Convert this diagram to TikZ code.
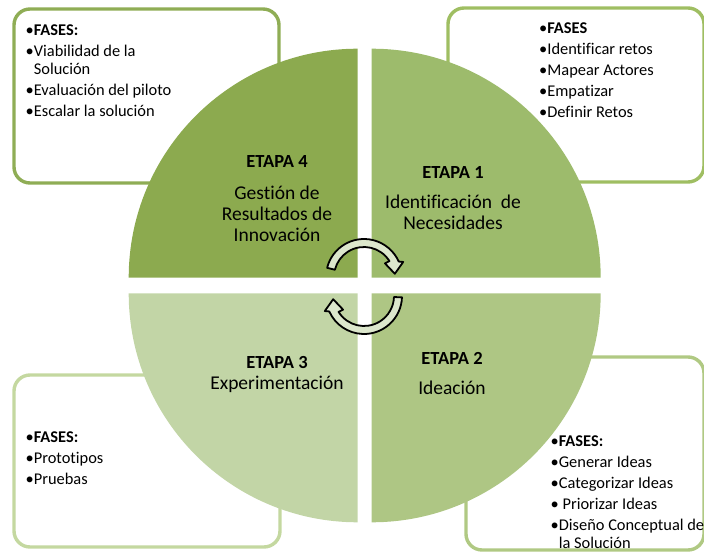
\documentclass[tikz,border=0pt]{standalone}
\usepackage{fontspec}
\setmainfont{Carlito}[Ligatures={NoCommon,NoRare}]
\definecolor{etapaFour}{HTML}{8CAA4F}
\definecolor{etapaOne}{HTML}{9DBB6C}
\definecolor{etapaTwo}{HTML}{AEC684}
\definecolor{etapaThree}{HTML}{C2D5A6}
\definecolor{borderFour}{HTML}{8FAD55}
\definecolor{borderOne}{HTML}{9FBE62}
\definecolor{borderTwo}{HTML}{B0C983}
\definecolor{borderThree}{HTML}{C4D8A0}
\definecolor{arrowFill}{HTML}{DCE7CC}
\tikzset{
    fase_box/.style={
        draw,
        line width=3.4pt,
        rectangle,
        rounded corners=16pt,
        fill=white
    },
    fase_text/.style={
        anchor=north west,
        align=left,
        inner sep=0pt,
        font=\fontsize{16.4}{18}\selectfont
    },
    etapa_text/.style={
        anchor=north,
        align=center,
        inner sep=0pt,
        font=\fontsize{19.5}{21}\selectfont
    },
    turn_arrow/.style={
        draw=black,
        line width=1.8pt,
        line join=round,
        fill=arrowFill
    },
}
\newcommand{\etapahead}[1]{{\fontsize{18.5}{21}\selectfont\bfseries #1}}
\newcommand{\bul}{\phantom{•}}

\begin{document}
\begin{tikzpicture}[x=1pt, y=1pt]
        \useasboundingbox (0,0) rectangle (704,552);

        % boxes
        \node[fase_box, draw=borderFour, minimum width=265pt, minimum height=174pt] (box4) at (146.5,456) {};
        \node[fase_box, draw=borderOne, minimum width=256pt, minimum height=174pt] (box1) at (576,457) {};
        \node[fase_box, draw=borderThree, minimum width=266pt, minimum height=172pt] (box3) at (147,91) {};
        \node[fase_box, draw=borderTwo, minimum width=238pt, minimum height=193pt] (box2) at (585,98.5) {};

        % quadrants
        \coordinate (c4) at (357.7,274.3);
        \coordinate (c1) at (371.7,274.3);
        \coordinate (c2) at (371.7,258.7);
        \coordinate (c3) at (357.7,258.7);
        \fill[etapaFour] (c4) -- ++(180:229pt) arc[start angle=180, end angle=90, radius=229pt] -- cycle;
        \fill[etapaOne] (c1) -- ++(0:229pt) arc[start angle=0, end angle=90, radius=229pt] -- cycle;
        \fill[etapaTwo] (c2) -- ++(270:229pt) arc[start angle=270, end angle=360, radius=229pt] -- cycle;
        \fill[etapaThree] (c3) -- ++(180:229pt) arc[start angle=180, end angle=270, radius=229pt] -- cycle;

        % phases
        \node[fase_text] (fases4) at (25.5,527.2) {•\textbf{FASES:}\\[3pt]
            •Viabilidad de la\\ \bul Solución\\[3pt]
            •Evaluación del piloto\\[3pt]
            •Escalar la solución};
        \node[fase_text] (fases1) at (539,529) {•\textbf{FASES}\\[3pt]
            •Identificar retos\\[3pt]
            •Mapear Actores\\[3pt]
            •Empatizar\\[3pt]
            •Definir Retos};
        \node[fase_text] (fases3) at (25.5,120) {•\textbf{FASES:}\\[3pt]
            •Prototipos\\[3pt]
            •Pruebas};
        \node[fase_text] (fases2) at (550.5,116) {•\textbf{FASES:}\\[3pt]
            •Generar Ideas\\[3pt]
            •Categorizar Ideas\\[3pt]
            • Priorizar Ideas\\[3pt]
            •Diseño Conceptual de\\ \bul la Solución};

        % stages
        \node[etapa_text] (etapa4) at (277,397.2) {\etapahead{ETAPA 4}\\[11pt]
            Gestión de\\ Resultados de\\ Innovación};
        \node[etapa_text] (etapa1) at (453,386.2) {\etapahead{ETAPA 1}\\[9.5pt]
            Identificación~~de\\ Necesidades};
        \node[etapa_text] (etapa3) at (277,196.2) {\etapahead{ETAPA 3}\\[0.5pt]
            Experimentación};
        \node[etapa_text] (etapa2) at (452,200.2) {\etapahead{ETAPA 2}\\[9.5pt]
            Ideación};

        % cycle arrows
        \coordinate (turn_top) at (364,275);
        \coordinate (turn_bottom) at (364,256);
        \draw[turn_arrow, shift={(turn_top)}] (166:38pt) arc[start angle=166, end angle=24, radius=38pt]
            -- (21:42pt) -- (6:31pt) -- (33:25pt) -- (32:30pt)
            arc[start angle=32, end angle=166, radius=30pt] -- cycle;
        \draw[turn_arrow, shift={(turn_bottom)}, rotate=180] (178:38pt) arc[start angle=178, end angle=24, radius=38pt]
            -- (21:42pt) -- (6:31pt) -- (33:25pt) -- (32:30pt)
            arc[start angle=32, end angle=178, radius=30pt] -- cycle;
    \end{tikzpicture}
\end{document}
